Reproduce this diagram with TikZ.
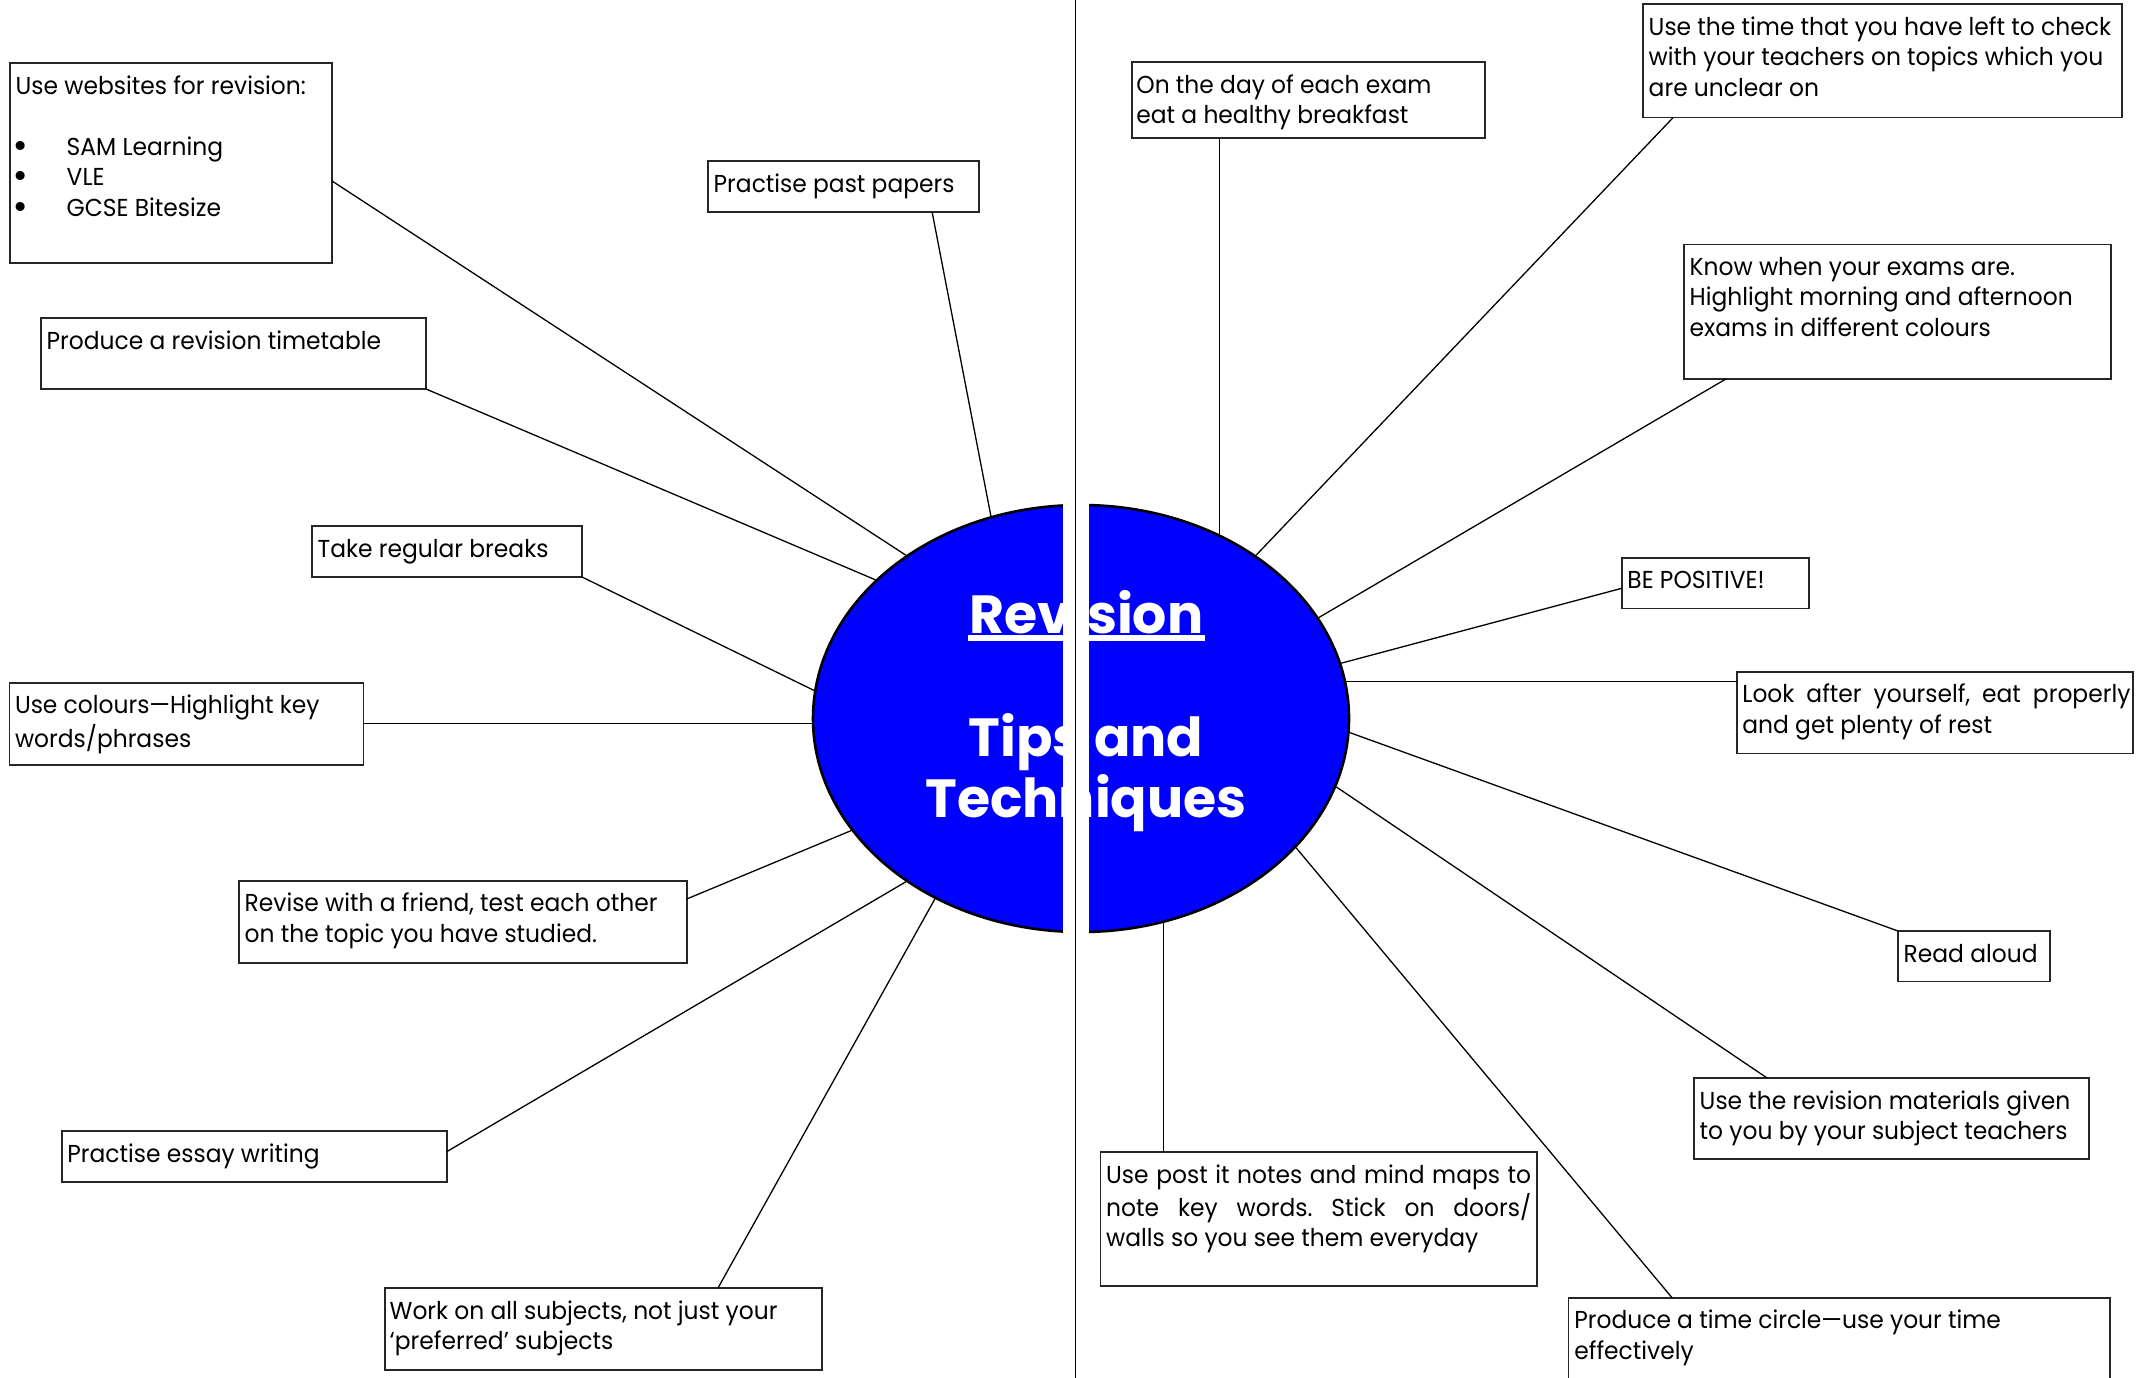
\documentclass[tikz,border=0pt]{standalone}
\usepackage{fontspec}
\usetikzlibrary{shapes.geometric,calc}
\newfontfamily\probefont{Poppins}
\newfontfamily\bulletfont{DejaVu Sans}
\newlength\probew
\settowidth\probew{\probefont\fontsize{24.5}{30}\selectfont Use the time that you have left to check\hbox{}Revise with a friend, test each other\hbox{}Work on all subjects, not just your\hbox{}Produce a revision timetable\hbox{}On the day of each exam\hbox{}Practise essay writing\hbox{}Practise past papers\hbox{}Use colours—Highlight key}
\pgfmathsetmacro\bodystretch{2690.3/\probew}
\edef\tmpdef{\noexpand\newfontfamily\noexpand\bodyfont[FakeStretch=\bodystretch]{Poppins}}\tmpdef
\newlength\titlew
\settowidth\titlew{\probefont\bfseries\fontsize{50}{60}\selectfont Techniques\hbox{}Tips and\hbox{}Revision}
\pgfmathsetmacro\titlesize{790/\titlew*50}
\newcommand\blt{\hspace*{-4pt}\makebox[55pt][l]{\raisebox{-2pt}{\bulletfont\fontsize{31}{30}\selectfont •}}}
\frenchspacing
\begin{document}
\begin{tikzpicture}[x=1pt,y=-1pt,
  box/.style={draw=black!85, line width=1.6pt, fill=white, rectangle, inner sep=0pt, outer sep=0pt, anchor=north west},
  txt/.style={anchor=north west, inner sep=0pt, align=left, font=\bodyfont\frenchspacing\fontsize{24.5}{30.5}\selectfont},
  jtxt/.style={txt, align=justify, text width=#1},
  link/.style={line width=1.3pt, black},
  ttl/.style={anchor=base, inner sep=0pt, text=white, font=\probefont\bfseries\fontsize{\titlesize}{\titlesize}\selectfont},
]
\useasboundingbox (0,0) rectangle (2149,1378);
\clip (0,0) rectangle (2149,1378);
\fill[white] (0,0) rectangle (2149,1378);

% central ellipse
\node[ellipse, draw=black, line width=2.6pt, fill=blue, minimum width=536pt, minimum height=427pt, inner sep=0pt] (ell) at (1081,718.5) {};

% boxes
\node[box, minimum width=322pt, minimum height=200pt] (b1) at (10,63) {};
\node[box, minimum width=271pt, minimum height=51pt] (b2) at (708,161) {};
\node[box, minimum width=385pt, minimum height=71pt] (b3) at (41,318) {};
\node[box, minimum width=270pt, minimum height=51pt] (b4) at (312,526) {};
\node[box, minimum width=354pt, minimum height=82pt] (b5) at (9.3,682.7) {};
\node[box, minimum width=447.7pt, minimum height=82pt] (b6) at (239,880.7) {};
\node[box, minimum width=385pt, minimum height=50.7pt] (b7) at (61.7,1131) {};
\node[box, minimum width=437pt, minimum height=82pt] (b8) at (385,1288) {};
\node[box, minimum width=353.3pt, minimum height=76pt] (b9) at (1131.7,62.3) {};
\node[box, minimum width=479pt, minimum height=113.4pt] (b10) at (1643,4.3) {};
\node[box, minimum width=427pt, minimum height=134.7pt] (b11) at (1684,244.3) {};
\node[box, minimum width=187.3pt, minimum height=50.6pt] (b12) at (1621.7,557.7) {};
\node[box, minimum width=396.3pt, minimum height=81.6pt] (b13) at (1736.7,671.7) {};
\node[box, minimum width=152pt, minimum height=50.6pt] (b14) at (1898,931) {};
\node[box, minimum width=395pt, minimum height=81pt] (b15) at (1694,1078) {};
\node[box, minimum width=436.5pt, minimum height=134pt] (b16) at (1100.5,1152) {};
\node[box, minimum width=541.4pt, minimum height=110pt] (b17) at (1568.6,1297.7) {};

% texts
\node[txt] (t1) at ($(b1.north west)+(5.5,9.6)$) {\strut Use websites for revision:\\[30.5pt]\blt SAM Learning\\\blt VLE\\\blt GCSE Bitesize};
\node[txt] (t2) at ($(b2.north west)+(5.5,9.6)$) {\strut Practise past papers};
\node[txt] (t3) at ($(b3.north west)+(5.5,9.6)$) {\strut Produce a revision timetable};
\node[txt] (t4) at ($(b4.north west)+(5.5,9.6)$) {\strut Take regular breaks};
\node[txt] (t5) at ($(b5.north west)+(5.5,9.6)$) {\strut Use colours—Highlight key\\words/phrases};
\node[txt] (t6) at ($(b6.north west)+(5.5,9.6)$) {\strut Revise with a friend, test each other\\on the topic you have studied.};
\node[txt] (t7) at ($(b7.north west)+(5.5,9.6)$) {\strut Practise essay writing};
\node[txt] (t8) at ($(b8.north west)+(4.5,9.6)$) {\strut Work on all subjects, not just your\\‘preferred’ subjects};
\node[txt] (t9) at ($(b9.north west)+(4.5,9.6)$) {\strut On the day of each exam\\eat a healthy breakfast};
\node[txt] (t10) at ($(b10.north west)+(5.5,9.6)$) {\strut Use the time that you have left to check\\with your teachers on topics which you\\are unclear on};
\node[txt] (t11) at ($(b11.north west)+(5.5,9.6)$) {\strut Know when your exams are.\\Highlight morning and afternoon\\exams in different colours};
\node[txt] (t12) at ($(b12.north west)+(5.5,9.6)$) {\strut BE POSITIVE!};
\node[jtxt=388pt] (t13) at ($(b13.north west)+(5.5,9.6)$) {\strut Look after yourself, eat properly\linebreak and get plenty of rest};
\node[txt] (t14) at ($(b14.north west)+(5.5,9.6)$) {\strut Read aloud};
\node[txt] (t15) at ($(b15.north west)+(5.5,9.6)$) {\strut Use the revision materials given\\to you by your subject teachers};
\node[jtxt=425pt] (t16) at ($(b16.north west)+(5.5,9.6)$) {\strut Use post it notes and mind maps to\linebreak note key words. Stick on doors/\linebreak walls so you see them everyday};
\node[txt] (t17) at ($(b17.north west)+(5.5,9.6)$) {\strut Produce a time circle—use your time\\effectively};

% connectors
\draw[link] ($(b1.north east)!0.59!(b1.south east)$) -- (ell.137);
\draw[link] ($(b2.south west)!0.827!(b2.south east)$) -- (ell.114);
\draw[link] (b3.south east) -- (ell.146);
\draw[link] (b4.south east) -- (ell.174);
\draw[link] (ell.181) -- (ell.181 -| b5.east);
\draw[link] ($(b6.north east)!0.223!(b6.south east)$) -- (ell.206);
\draw[link] ($(b7.north east)!0.408!(b7.south east)$) -- (ell.223);
\draw[link] ($(b8.north west)!0.762!(b8.north east)$) -- (ell.231);
\draw[link] (ell.53) -- (ell.53 |- b9.south);
\draw[link] ($(b10.south west)!0.0626!(b10.south east)$) -- (ell.43);
\draw[link] ($(b11.south west)!0.098!(b11.south east)$) -- (ell.23);
\draw[link] ($(b12.north west)!0.605!(b12.south west)$) -- (ell.12);
\draw[link] (ell.8) -- (ell.8 -| b13.west);
\draw[link] (b14.north west) -- (ell.357);
\draw[link] ($(b15.north west)!0.185!(b15.north east)$) -- (ell.345);
\draw[link] (ell.292) -- (ell.292 |- b16.north);
\draw[link] ($(b17.north west)!0.191!(b17.north east)$) -- (ell.329);

% title
\node[ttl] (rev) at (1086.4,633) {Revision};
\fill[white] ([xshift=-1pt,yshift=-2pt]rev.base west) rectangle ([xshift=1pt,yshift=-8pt]rev.base east);
\node[ttl] (tips) at (1086,756) {Tips and};
\node[ttl] (tech) at (1086,817.3) {Techniques};

% divider
\fill[white] (1063,495) rectangle (1089,942);
\coordinate (dtop) at (1075.5,0);
\coordinate (dbot) at (1075.5,1378);
\draw[line width=1.5pt, black] (dtop) -- (dbot);
\end{tikzpicture}
\end{document}
